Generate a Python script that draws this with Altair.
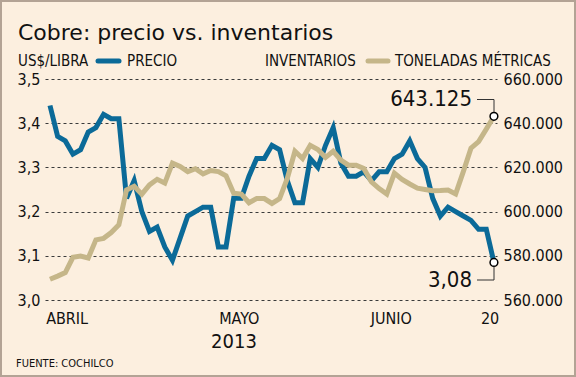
import altair as alt
import pandas as pd

# ---------------- data ----------------
idx = list(range(59))
precio = [3.44, 3.37, 3.36, 3.33, 3.34, 3.38, 3.39, 3.42, 3.41, 3.41,
          3.23, 3.27, 3.20, 3.155, 3.165, 3.12, 3.09, 3.14, 3.19, 3.20,
          3.21, 3.21, 3.12, 3.12, 3.23, 3.23, 3.28, 3.32, 3.32, 3.35,
          3.34, 3.27, 3.22, 3.22, 3.32, 3.30, 3.35, 3.39, 3.31, 3.28,
          3.28, 3.29, 3.27, 3.29, 3.29, 3.32, 3.33, 3.36, 3.32, 3.30,
          3.23, 3.19, 3.21, 3.20, 3.19, 3.18, 3.16, 3.16, 3.085]
inventarios = [569400, 570800, 572400, 579300, 579900, 579000, 587200, 587900, 590500, 594000,
               609800, 611500, 607900, 612100, 614600, 612900, 621900, 620400, 618100, 619400,
               617100, 618600, 618100, 616200, 608300, 607900, 604000, 605900, 605900, 603700,
               605900, 615000, 627300, 624000, 630000, 628100, 624500, 627300, 623300, 621000,
               621000, 619500, 613400, 610400, 607900, 617400, 614600, 612500, 610600, 610000,
               609400, 609500, 609800, 608000, 618100, 628700, 631700, 637300, 643125]
meses = ["ABRIL", "MAYO", "JUNIO", "20"]
meses_idx = [-0.5, 22.1, 41.9, 56.3]
precio_ticks = [3.0, 3.1, 3.2, 3.3, 3.4, 3.5]
inv_ticks = [560000, 580000, 600000, 620000, 640000, 660000]

BLUE = "#0B6A98"
TAN = "#C5B689"
BG = "#FCEFDF"
COND = "DejaVu Sans Condensed"

price_df = pd.DataFrame({"idx": idx, "precio": precio})
inv_df = pd.DataFrame({"idx": idx, "inv": inventarios})
mes_df = pd.DataFrame({"mes": meses, "idx": meses_idx})
uno = pd.DataFrame({"k": [0]})

xenc = alt.X("idx:Q", scale=alt.Scale(domain=[-0.65, 58.4], nice=False, zero=False), axis=None)

y_left = alt.Y(
    "precio:Q",
    scale=alt.Scale(domain=[3.0, 3.5], nice=False, zero=False),
    axis=alt.Axis(orient="left", values=precio_ticks, title=None, domain=False, ticks=False,
                  grid=True, gridDash=[3, 3], gridColor="#3a3a3a", gridWidth=1,
                  labelExpr="replace(format(datum.value, '.1f'), '.', ',')",
                  labelFont=COND, labelFontSize=16, labelColor="#111111", labelPadding=5,
                  labelFlush=False, labelOverlap=False),
)
y_right = alt.Y(
    "inv:Q",
    scale=alt.Scale(domain=[560000, 660000], nice=False, zero=False),
    axis=alt.Axis(orient="right", values=inv_ticks, title=None, domain=False, ticks=False,
                  grid=False,
                  labelExpr="replace(format(datum.value, ','), ',', '.')",
                  labelFont=COND, labelFontSize=16, labelColor="#111111", labelPadding=6,
                  labelFlush=False, labelOverlap=False),
)

price_line = alt.Chart(price_df).mark_line(color=BLUE, strokeWidth=5).encode(x=xenc, y=y_left)
price_end = alt.Chart(price_df.tail(1)).mark_point(
    filled=True, fill="white", stroke="black", strokeWidth=1.5, size=60, opacity=1
).encode(x=xenc, y=alt.Y("precio:Q"))

inv_line = alt.Chart(inv_df).mark_line(color=TAN, strokeWidth=5).encode(x=xenc, y=y_right)
inv_end = alt.Chart(inv_df.tail(1)).mark_point(
    filled=True, fill="white", stroke="black", strokeWidth=1.5, size=60, opacity=1
).encode(x=xenc, y=alt.Y("inv:Q"))

main = alt.layer(alt.layer(price_line, price_end), alt.layer(inv_line, inv_end)).resolve_scale(y="independent")


def txt(s, x, y, size, font=COND, align="left", baseline="middle", color="#111111"):
    return alt.Chart(uno).mark_text(text=s, font=font, fontSize=size, align=align,
                                    baseline=baseline, color=color).encode(
        x=alt.value(x), y=alt.value(y))


def rule(x, x2, y, y2, color, width, cap="butt"):
    return alt.Chart(uno).mark_rule(color=color, strokeWidth=width, strokeCap=cap).encode(
        x=alt.value(x), x2=alt.value(x2), y=alt.value(y), y2=alt.value(y2))


months = alt.Chart(mes_df).mark_text(font=COND, fontSize=16, align="left", baseline="alphabetic",
                                     color="#111111").encode(
    x=alt.X("idx:Q", scale=alt.Scale(domain=[-0.65, 58.4], nice=False, zero=False), axis=None),
    y=alt.value(245), text="mes:N")

border = alt.Chart(uno).mark_rect(fillOpacity=0, stroke="#B3A395", strokeWidth=2).encode(
    x=alt.value(-44), x2=alt.value(530), y=alt.value(-78), y2=alt.value(297))

deco = [
    txt("Cobre: precio vs. inventarios", -27, -39, 22, font="DejaVu Sans", baseline="alphabetic"),
    txt("US$/LIBRA", -27, -18, 15),
    rule(53, 74, -18, -18, BLUE, 5, "round"),
    txt("PRECIO", 82, -18, 15),
    txt("INVENTARIOS", 220, -18, 15),
    rule(323, 343, -18, -18, TAN, 5, "round"),
    txt("TONELADAS MÉTRICAS", 350, -18, 15),
    txt("2013", 189, 269, 20, align="center", baseline="alphabetic"),
    txt("FUENTE: COCHILCO", -29, 288, 11, baseline="alphabetic"),
    txt("643.125", 427, 20, 22, align="right"),
    txt("3,08", 427, 201, 22, align="right"),
    rule(432, 449, 20.5, 20.5, "#333333", 1),
    rule(449, 449, 20.5, 33, "#333333", 1),
    rule(432, 449, 201, 201, "#333333", 1),
    rule(449, 449, 188, 201, "#333333", 1),
]

chart = alt.layer(main, months, *deco, border).properties(
    width=452, height=221,
    padding={"left": 45, "top": 79, "right": 79, "bottom": 77},
    autosize=alt.AutoSizeParams(type="none"),
    background=BG,
).configure_view(stroke=None)

chart.save("out.html", embed_options={"renderer": "svg", "actions": False})
